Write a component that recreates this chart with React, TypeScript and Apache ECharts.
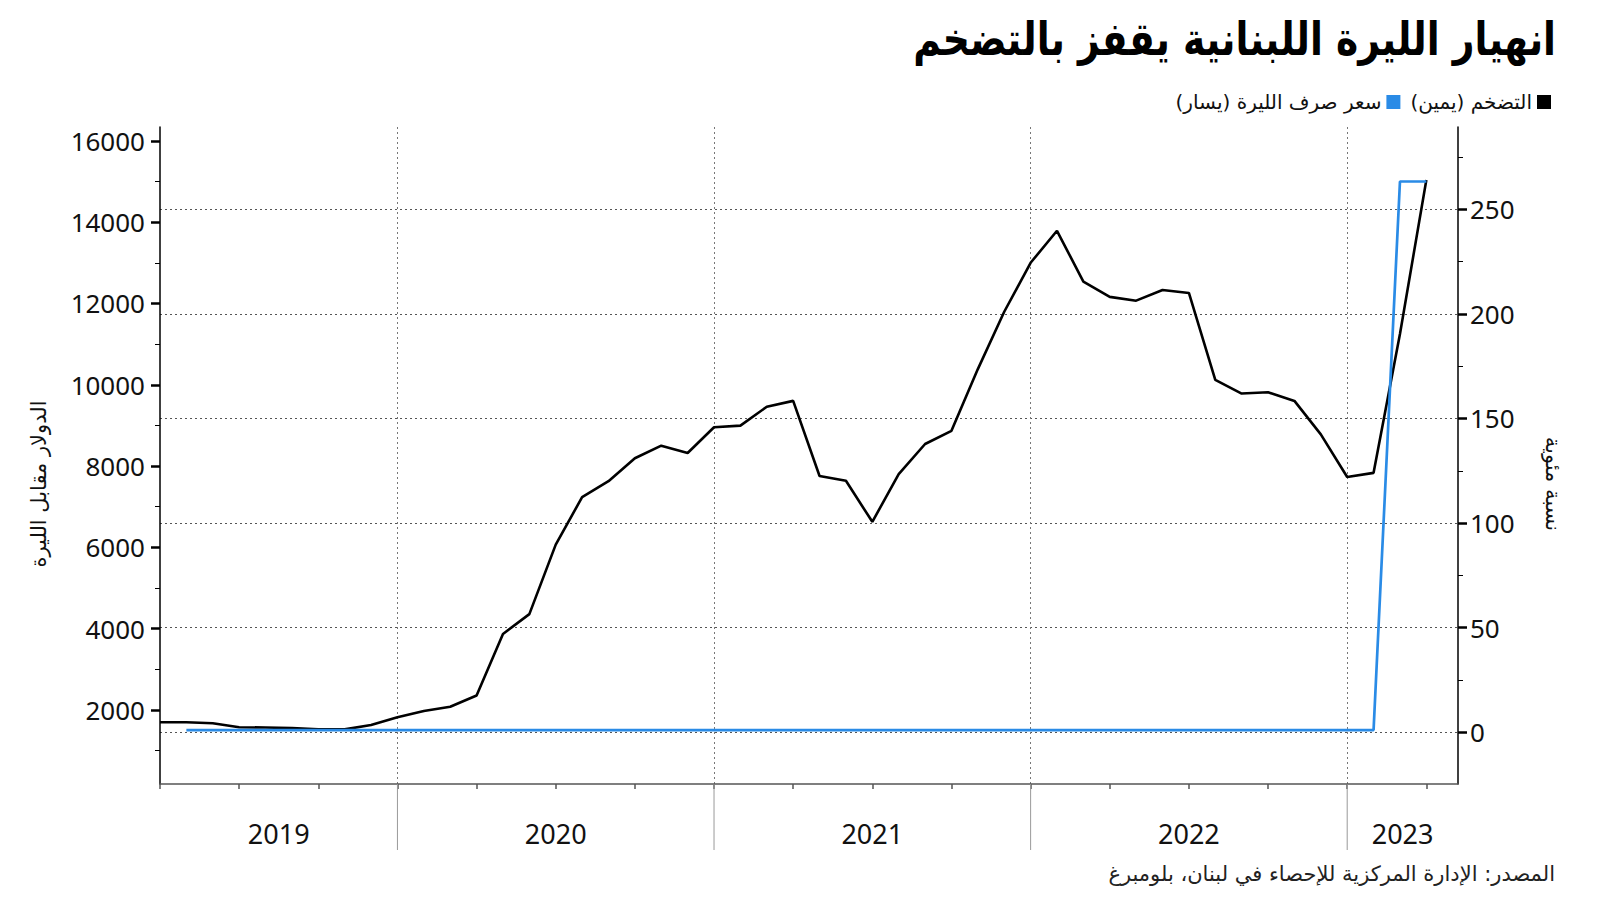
import React, { useEffect, useRef } from "react";
import * as echarts from "echarts";

// Month positions (month start, index since Jan 2019)
const inflationMonths = [
  "2019-04", "2019-05", "2019-06", "2019-07", "2019-08", "2019-09", "2019-10", "2019-11", "2019-12",
  "2020-01", "2020-02", "2020-03", "2020-04", "2020-05", "2020-06", "2020-07", "2020-08", "2020-09", "2020-10", "2020-11", "2020-12",
  "2021-01", "2021-02", "2021-03", "2021-04", "2021-05", "2021-06", "2021-07", "2021-08", "2021-09", "2021-10", "2021-11", "2021-12",
  "2022-01", "2022-02", "2022-03", "2022-04", "2022-05", "2022-06", "2022-07", "2022-08", "2022-09", "2022-10", "2022-11", "2022-12",
  "2023-01", "2023-02", "2023-03", "2023-04",
];
// Inflation, % (right axis)
const inflation = [
  4.8, 4.8, 4.3, 2.4, 2.3, 2.0, 1.5, 1.4, 3.5,
  7.2, 10.2, 12.2, 17.6, 47.0, 56.5, 89.7, 112.4, 120.0, 131.0, 137.0, 133.5,
  145.8, 146.6, 155.6, 158.4, 122.5, 120.2, 100.6, 123.4, 137.8, 144.1, 173.6, 201.0,
  224.4, 239.7, 215.4, 208.1, 206.3, 211.4, 210.0, 168.4, 161.9, 162.5, 158.4, 142.4,
  122.0, 124.0, 190.4, 264.0,
];
const fxMonths = [
  "2019-05", "2019-06", "2019-07", "2019-08", "2019-09", "2019-10", "2019-11", "2019-12",
  "2020-01", "2020-02", "2020-03", "2020-04", "2020-05", "2020-06", "2020-07", "2020-08", "2020-09", "2020-10", "2020-11", "2020-12",
  "2021-01", "2021-02", "2021-03", "2021-04", "2021-05", "2021-06", "2021-07", "2021-08", "2021-09", "2021-10", "2021-11", "2021-12",
  "2022-01", "2022-02", "2022-03", "2022-04", "2022-05", "2022-06", "2022-07", "2022-08", "2022-09", "2022-10", "2022-11", "2022-12",
  "2023-01", "2023-02", "2023-03", "2023-04",
];
// Official exchange rate, LBP per USD (left axis)
const fxRate = [
  1507.5, 1507.5, 1507.5, 1507.5, 1507.5, 1507.5, 1507.5, 1507.5,
  1507.5, 1507.5, 1507.5, 1507.5, 1507.5, 1507.5, 1507.5, 1507.5, 1507.5, 1507.5, 1507.5, 1507.5,
  1507.5, 1507.5, 1507.5, 1507.5, 1507.5, 1507.5, 1507.5, 1507.5, 1507.5, 1507.5, 1507.5, 1507.5,
  1507.5, 1507.5, 1507.5, 1507.5, 1507.5, 1507.5, 1507.5, 1507.5, 1507.5, 1507.5, 1507.5, 1507.5,
  1507.5, 1507.5, 15000, 15000,
];

const leftTicks = [2000, 4000, 6000, 8000, 10000, 12000, 14000, 16000];
const leftMinorTicks = [1000, 3000, 5000, 7000, 9000, 11000, 13000, 15000];
const rightTicks = [0, 50, 100, 150, 200, 250];
const rightMinorTicks = [25, 75, 125, 175, 225, 275];
const quarterTicks = [3, 6, 9, 12, 15, 18, 21, 24, 27, 30, 33, 36, 39, 42, 45, 48, 51];
const yearBoundaries = [12, 24, 36, 48];
const yearLabelPositions = [7.5, 18, 30, 42, 50.1];

const TITLE = "انهيار الليرة اللبنانية يقفز بالتضخم";
const RLM = "\u200F";
const NAME_INFL = RLM + "التضخم (يمين)" + RLM;
const NAME_FX = RLM + "سعر صرف الليرة (يسار)" + RLM;
const LEFT_NAME = "الدولار مقابل الليرة";
const RIGHT_NAME = "نسبة مئوية";
const SOURCE = "المصدر: الإدارة المركزية للإحصاء في لبنان، بلومبرغ";

const monthIndex = (s: string) => {
  const [y, m] = s.split("-").map(Number);
  return (y - 2019) * 12 + (m - 1);
};

const X_MIN = 3;
const X_MAX = 52.2;
const L_MIN = 180;
const L_MAX = 16340;
const R_MIN = -24.7;
const R_MAX = 289.3;

const NUM_FONT = "'Noto Sans', 'Open Sans', sans-serif";
const AR_FONT = "'DejaVu Sans', sans-serif";
const BLUE = "#2a8be6";

export default function App() {
  const ref = useRef<HTMLDivElement>(null);
  useEffect(() => {
    if (!ref.current) return;
    const chart = echarts.init(ref.current, undefined, { renderer: "svg" });
    const option: any = {
      animation: false,
      backgroundColor: "#ffffff",
      grid: { left: 160, right: 142, top: 127, bottom: 117, containLabel: false },
      legend: {
        right: 44,
        top: 87,
        align: "right",
        itemWidth: 14,
        itemHeight: 14,
        itemGap: 10,
        icon: "rect",
        data: [NAME_FX, NAME_INFL],
        textStyle: { fontFamily: AR_FONT, fontSize: 20, color: "#111" },
        selectedMode: false,
      },
      xAxis: [
        {
          type: "value",
          position: "bottom",
          min: X_MIN,
          max: X_MAX,
          axisLine: { show: true, onZero: false, lineStyle: { color: "#555", width: 1.5 } },
          axisTick: { show: true, customValues: quarterTicks, length: 5, lineStyle: { color: "#555", width: 1.5 } },
          axisLabel: { show: false },
          splitLine: { show: false },
        },
        {
          type: "value",
          position: "bottom",
          min: X_MIN,
          max: X_MAX,
          axisLine: { show: false, onZero: false },
          axisTick: { show: true, customValues: yearBoundaries, length: 66, lineStyle: { color: "rgba(0,0,0,0)", width: 1 } },
          axisLabel: {
            show: true,
            customValues: yearLabelPositions,
            formatter: (v: number) => String(2019 + Math.floor(v / 12)),
            fontFamily: NUM_FONT,
            fontSize: 27,
            color: "#111",
            margin: 36,
          },
          splitLine: { show: true, lineStyle: { color: "#777", width: 1, type: [2, 3] } },
        },
      ],
      yAxis: [
        {
          type: "value",
          position: "left",
          min: L_MIN,
          max: L_MAX,
          axisLine: { show: true, onZero: false, lineStyle: { color: "#000", width: 1.5 } },
          axisTick: { show: true, customValues: leftTicks, length: 9, lineStyle: { color: "#000", width: 2.5 } },
          axisLabel: {
            show: true,
            customValues: leftTicks,
            formatter: (v: number) => String(v),
            fontFamily: NUM_FONT,
            fontSize: 26,
            color: "#111",
            margin: 15,
          },
          splitLine: { show: false },
        },
        {
          type: "value",
          position: "right",
          min: R_MIN,
          max: R_MAX,
          axisLine: { show: true, onZero: false, lineStyle: { color: "#000", width: 1.5 } },
          axisTick: { show: true, customValues: rightTicks, length: 9, lineStyle: { color: "#000", width: 2.5 } },
          axisLabel: {
            show: true,
            customValues: rightTicks,
            formatter: (v: number) => String(v),
            fontFamily: NUM_FONT,
            fontSize: 26,
            color: "#111",
            margin: 12,
          },
          splitLine: { show: true, lineStyle: { color: "#555", width: 1, type: [2, 3] } },
        },
        {
          type: "value",
          position: "left",
          min: L_MIN,
          max: L_MAX,
          axisLine: { show: false, onZero: false },
          axisTick: { show: true, customValues: leftMinorTicks, length: 5, lineStyle: { color: "#000", width: 1 } },
          axisLabel: { show: false },
          splitLine: { show: false },
        },
        {
          type: "value",
          position: "right",
          min: R_MIN,
          max: R_MAX,
          axisLine: { show: false, onZero: false },
          axisTick: { show: true, customValues: rightMinorTicks, length: 5, lineStyle: { color: "#000", width: 1 } },
          axisLabel: { show: false },
          splitLine: { show: false },
        },
      ],
      series: [
        {
          type: "custom",
          xAxisIndex: 0,
          yAxisIndex: 1,
          clip: false,
          silent: true,
          data: yearBoundaries.map((v) => [v, R_MIN]),
          encode: { x: 0, y: 1 },
          renderItem: (_params: any, api: any) => {
            const p = api.coord([api.value(0), R_MIN]);
            return {
              type: "line",
              shape: { x1: p[0], y1: p[1], x2: p[0], y2: p[1] + 66 },
              style: { stroke: "#999", lineWidth: 1 },
            };
          },
          z: 1,
        },
        {
          name: NAME_INFL,
          type: "line",
          xAxisIndex: 0,
          yAxisIndex: 1,
          data: inflationMonths.map((m, i) => [monthIndex(m), inflation[i]]),
          showSymbol: false,
          lineStyle: { color: "#000", width: 2.6 },
          itemStyle: { color: "#000" },
          z: 3,
        },
        {
          name: NAME_FX,
          type: "line",
          xAxisIndex: 0,
          yAxisIndex: 0,
          data: fxMonths.map((m, i) => [monthIndex(m), fxRate[i]]),
          showSymbol: false,
          lineStyle: { color: BLUE, width: 2.7 },
          itemStyle: { color: BLUE },
          z: 4,
        },
      ],
      graphic: [
        {
          type: "text",
          x: 1556,
          y: 16,
          scaleX: 0.82,
          style: { text: TITLE, font: `bold 46px ${AR_FONT}`, fill: "#000", align: "right", verticalAlign: "top" },
        },
        {
          type: "text",
          x: 39,
          y: 484,
          rotation: Math.PI / 2,
          style: { text: LEFT_NAME, font: `21px ${AR_FONT}`, fill: "#111", align: "center", verticalAlign: "middle" },
        },
        {
          type: "text",
          x: 1553,
          y: 484,
          rotation: -Math.PI / 2,
          style: { text: RIGHT_NAME, font: `21px ${AR_FONT}`, fill: "#111", align: "center", verticalAlign: "middle" },
        },
        {
          type: "text",
          x: 1555,
          y: 874,
          style: { text: SOURCE, font: `21px ${AR_FONT}`, fill: "#222", align: "right", verticalAlign: "middle" },
        },
      ],
    };
    chart.setOption(option);
    return () => chart.dispose();
  }, []);
  return (
    <div
      ref={ref}
      style={{ position: "fixed", left: 0, top: 0, width: 1600, height: 901, background: "#fff" }}
    />
  );
}
